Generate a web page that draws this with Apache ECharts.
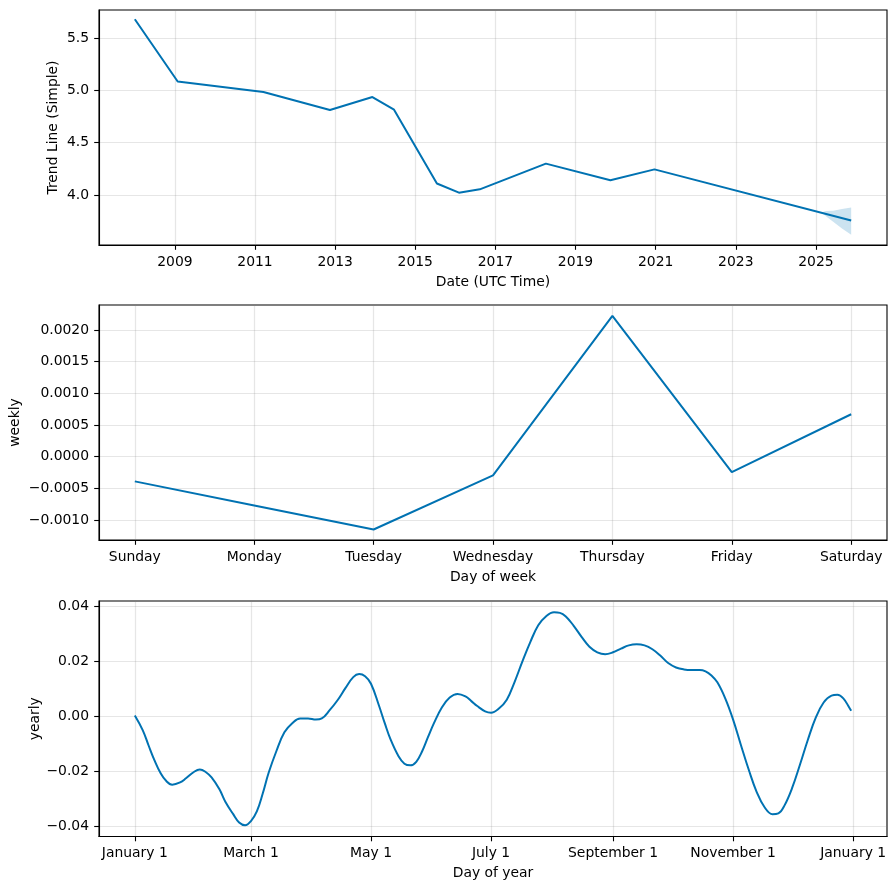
<!DOCTYPE html>
<html>
<head>
<meta charset="utf-8">
<script src="https://cdn.jsdelivr.net/npm/echarts@6/dist/echarts.min.js"></script>
<style>
html,body{margin:0;padding:0;background:#fff;}
#c{width:895px;height:889px;}
</style>
</head>
<body>
<div id="c"></div>
<script>
// ---------- Data ----------
// Trend: dates as decimal years
const trendYears = [2008.00,2009.07,2011.21,2012.87,2013.93,2014.47,2015.54,2016.09,2016.61,2018.26,2019.87,2020.97,2025.88];
const trendValues = [5.68,5.085,4.984,4.812,4.936,4.815,4.11,4.022,4.054,4.30,4.14,4.245,3.757];
const bandYears = [2025.14,2025.25,2025.43,2025.65,2025.88];
const bandLower = [3.832,3.796,3.745,3.680,3.620];
const bandUpper = [3.832,3.846,3.850,3.866,3.880];
const trendYTicks = [4.0,4.5,5.0,5.5];
const trendXTickYears = [2009,2011,2013,2015,2017,2019,2021,2023,2025];

const weekDays = ['Sunday','Monday','Tuesday','Wednesday','Thursday','Friday','Saturday'];
const weeklyValues = [-0.000390,-0.000770,-0.001150,-0.000295,0.002225,-0.000245,0.000670];
const weeklyYTicks = [-0.0010,-0.0005,0.0000,0.0005,0.0010,0.0015,0.0020];

const yearDays = [0,4,7,10,13,16,19,23,26,30,33,36,39,43,46,50,53,56,59,62,65,68,72,76,80,84,88,92,95,99,103,107,111,114,117,120,124,127,130,134,137,140,143,146,149,152,156,160,164,168,171,174,178,181,185,189,193,197,201,205,209,213,216,219,223,227,231,235,239,243,247,251,255,259,263,267,271,275,279,283,287,290,293,296,300,304,308,312,316,320,324,327,330,334,338,342,346,350,354,357,360,363,364];
const yearlyValues = [0.0003,-0.005,-0.0106,-0.016,-0.0205,-0.0235,-0.0248,-0.024,-0.0225,-0.0202,-0.0193,-0.0202,-0.0222,-0.0265,-0.031,-0.0355,-0.0385,-0.0395,-0.038,-0.0345,-0.028,-0.0205,-0.0125,-0.0058,-0.0025,-0.0008,-0.0008,-0.0012,-0.0008,0.0022,0.0058,0.0102,0.0142,0.0153,0.0145,0.0118,0.004,-0.0025,-0.0085,-0.0145,-0.0172,-0.0178,-0.0165,-0.0127,-0.0075,-0.0025,0.0032,0.0068,0.0081,0.0072,0.0055,0.0037,0.0018,0.0013,0.0028,0.006,0.0125,0.0200,0.0270,0.0330,0.0363,0.0377,0.0375,0.0362,0.0328,0.0288,0.0252,0.0232,0.0225,0.0232,0.0245,0.0257,0.0261,0.0257,0.0243,0.022,0.0193,0.0177,0.0170,0.0168,0.0168,0.0163,0.0148,0.0123,0.0065,-0.0012,-0.0105,-0.0195,-0.0275,-0.033,-0.0355,-0.0352,-0.0325,-0.026,-0.0175,-0.0085,-0.0005,0.005,0.0075,0.0078,0.0065,0.0032,0.002];
const yearXTickDays = [0,59,120,181,243,304,365];
const yearXTickLabels = ['January 1','March 1','May 1','July 1','September 1','November 1','January 1'];
const yearlyYTicks = [-0.04,-0.02,0.00,0.02,0.04];

// ---------- Chart ----------
const FONT = 'DejaVu Sans';
const FS = 13.9;
const LINE = '#0072B2';
const minus = s => s.replace('-', '\u2212');
const tickStyle = vals => ({show: true, length: 4.8, customValues: vals, lineStyle: {color: '#000', width: 1.1}});
const labelStyle = (vals, fmt) => ({fontFamily: FONT, fontSize: FS, color: '#000', margin: 10, customValues: vals, formatter: fmt});

function axisBase(extra) {
  return Object.assign({
    type: 'value',
    nameLocation: 'middle',
    nameTextStyle: {fontFamily: FONT, fontSize: FS, color: '#000'},
    axisLine: {show: true, onZero: false, lineStyle: {color: '#000', width: 1.1}},
    splitLine: {show: true, lineStyle: {color: 'rgba(128,128,128,0.2)', width: 1.2}}
  }, extra);
}

const gridBase = {left: 99, width: 788, show: true, borderColor: '#000', borderWidth: 1.1,
  containLabel: false, outerBoundsMode: 'none'};

const option = {
  animation: false,
  backgroundColor: '#fff',
  grid: [
    Object.assign({top: 10, height: 235}, gridBase),
    Object.assign({top: 305, height: 235}, gridBase),
    Object.assign({top: 601, height: 235.5}, gridBase)
  ],
  xAxis: [
    axisBase({
      gridIndex: 0, name: 'Date (UTC Time)', nameGap: 30,
      min: 2007.106, max: 2026.774,
      axisTick: tickStyle(trendXTickYears),
      axisLabel: labelStyle(trendXTickYears, v => String(Math.round(v)))
    }),
    axisBase({
      gridIndex: 1, name: 'Day of week', nameGap: 30, min: -0.3, max: 6.3,
      axisTick: tickStyle([0,1,2,3,4,5,6]),
      axisLabel: labelStyle([0,1,2,3,4,5,6], v => weekDays[Math.round(v)] || '')
    }),
    axisBase({
      gridIndex: 2, name: 'Day of year', nameGap: 30, min: -18.2, max: 382.2,
      axisTick: tickStyle(yearXTickDays),
      axisLabel: labelStyle(yearXTickDays, v => { const i = yearXTickDays.indexOf(Math.round(v)); return i >= 0 ? yearXTickLabels[i] : ''; })
    })
  ],
  yAxis: [
    axisBase({
      gridIndex: 0, name: 'Trend Line (Simple)', nameGap: 39, nameMoveOverlap: false, min: 3.522, max: 5.768,
      axisTick: tickStyle(trendYTicks),
      axisLabel: labelStyle(trendYTicks, v => v.toFixed(1))
    }),
    axisBase({
      gridIndex: 1, name: 'weekly', nameGap: 77, nameMoveOverlap: false, min: -0.001316, max: 0.002396,
      axisTick: tickStyle(weeklyYTicks),
      axisLabel: labelStyle(weeklyYTicks, v => minus(v.toFixed(4)))
    }),
    axisBase({
      gridIndex: 2, name: 'yearly', nameGap: 57, nameMoveOverlap: false, min: -0.0436, max: 0.0418,
      axisTick: tickStyle(yearlyYTicks),
      axisLabel: labelStyle(yearlyYTicks, v => minus(v.toFixed(2)))
    })
  ],
  series: [
    {
      type: 'custom', xAxisIndex: 0, yAxisIndex: 0, silent: true,
      data: [[bandYears[0], bandLower[0]]],
      renderItem: (params, api) => {
        const pts = [];
        for (let i = 0; i < bandYears.length; i++) pts.push(api.coord([bandYears[i], bandUpper[i]]));
        for (let i = bandYears.length - 1; i >= 0; i--) pts.push(api.coord([bandYears[i], bandLower[i]]));
        return {type: 'polygon', shape: {points: pts}, style: {fill: 'rgba(0,114,178,0.2)', stroke: 'none'}};
      }
    },
    {
      type: 'line', xAxisIndex: 0, yAxisIndex: 0, symbol: 'none',
      lineStyle: {color: LINE, width: 2},
      data: trendYears.map((d, i) => [d, trendValues[i]])
    },
    {
      type: 'line', xAxisIndex: 1, yAxisIndex: 1, symbol: 'none',
      lineStyle: {color: LINE, width: 2},
      data: weeklyValues.map((v, i) => [i, v])
    },
    {
      type: 'line', xAxisIndex: 2, yAxisIndex: 2, symbol: 'none', smooth: 0.4,
      lineStyle: {color: LINE, width: 2},
      data: yearDays.map((d, i) => [d, yearlyValues[i]])
    }
  ]
};

const chart = echarts.init(document.getElementById('c'), null, {renderer: 'canvas'});
chart.setOption(option);
</script>
</body>
</html>
